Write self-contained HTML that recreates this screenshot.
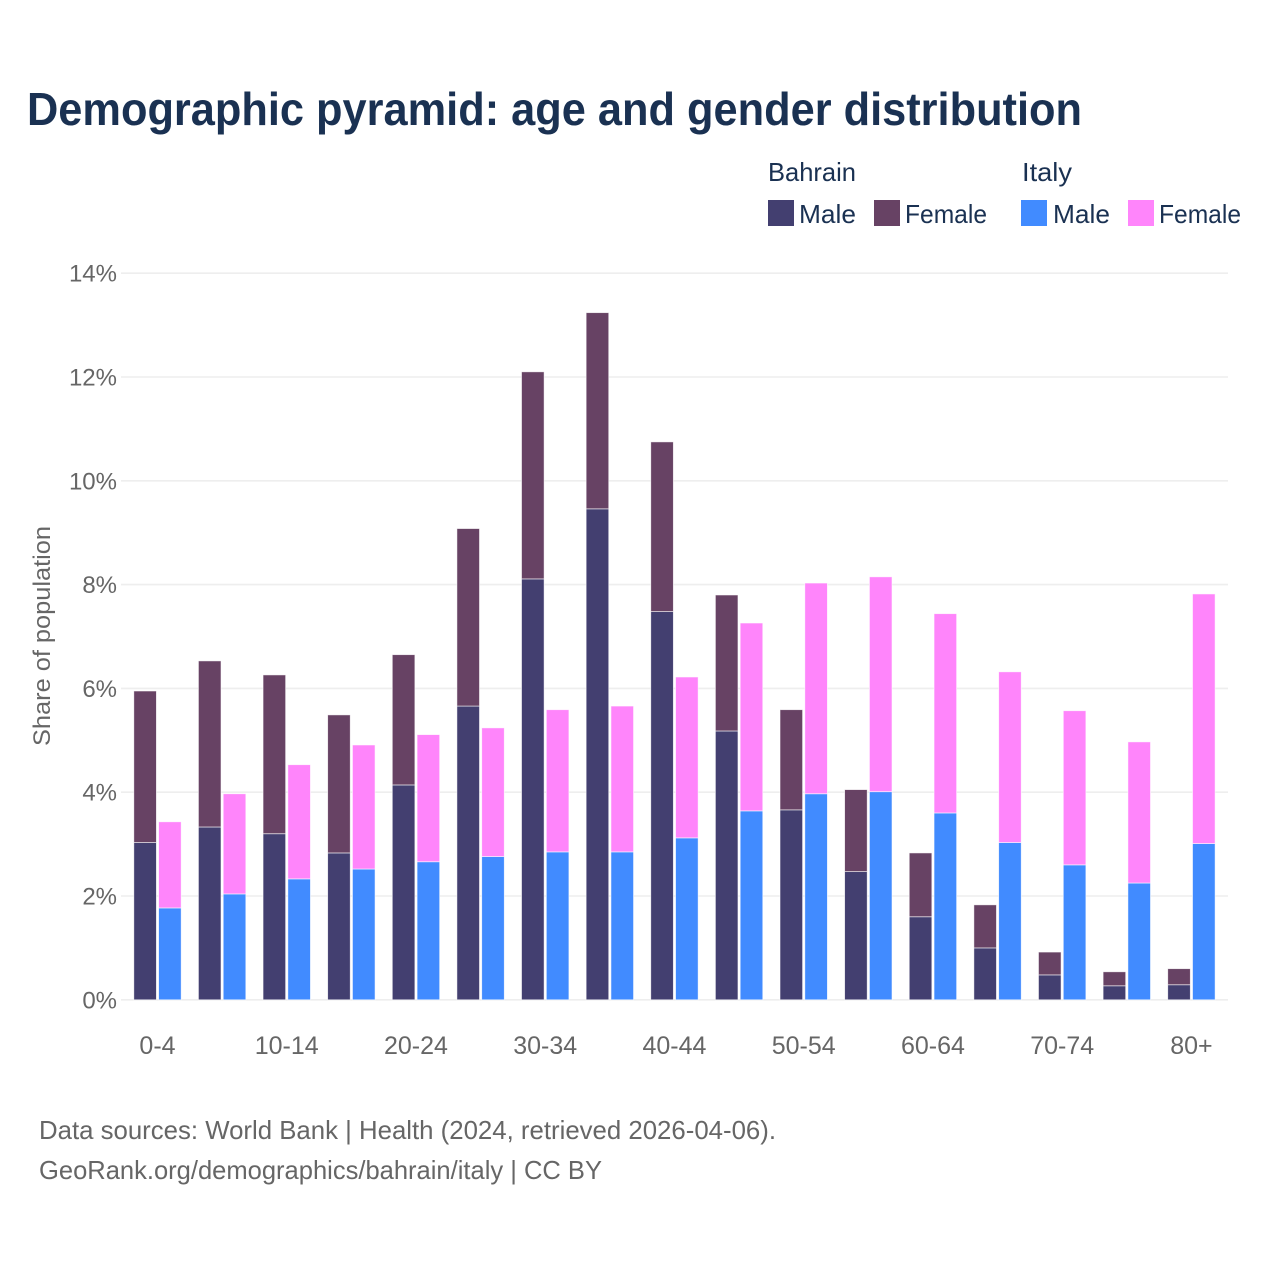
<!DOCTYPE html>
<html lang="en">
<head>
<meta charset="utf-8">
<title>Demographic pyramid: age and gender distribution</title>
<style>
  html, body { margin: 0; padding: 0; background: #fff; }
  svg { display: block; font-family: "Liberation Sans", sans-serif; }
</style>
</head>
<body>
<svg id="chart" width="1280" height="1280" viewBox="0 0 1280 1280" xmlns="http://www.w3.org/2000/svg">
  <rect x="0" y="0" width="1280" height="1280" fill="#ffffff"/>
  <text x="27" y="125" font-size="46" font-weight="700" fill="#1a3152" textLength="1055" lengthAdjust="spacingAndGlyphs">Demographic pyramid: age and gender distribution</text>

  <g font-size="26" fill="#1a3152">
    <text x="768" y="181" textLength="88" lengthAdjust="spacingAndGlyphs">Bahrain</text>
    <text x="1022" y="181" textLength="50" lengthAdjust="spacingAndGlyphs">Italy</text>
    <rect x="768" y="200" width="26" height="26" fill="#433f70"/>
    <text x="799" y="223" textLength="57" lengthAdjust="spacingAndGlyphs">Male</text>
    <rect x="874" y="200" width="26" height="26" fill="#674264"/>
    <text x="905" y="223" textLength="82" lengthAdjust="spacingAndGlyphs">Female</text>
    <rect x="1021" y="200" width="26" height="26" fill="#418bff"/>
    <text x="1053" y="223" textLength="57" lengthAdjust="spacingAndGlyphs">Male</text>
    <rect x="1128" y="200" width="26" height="26" fill="#ff85fb"/>
    <text x="1159" y="223" textLength="82" lengthAdjust="spacingAndGlyphs">Female</text>
  </g>

  <g id="grid"></g>
  <g id="yticks"></g>
  <g id="bars"></g>
  <g id="xticks"></g>

  <text transform="translate(50 636) rotate(-90)" text-anchor="middle" font-size="24" fill="#666666" textLength="220" lengthAdjust="spacingAndGlyphs">Share of population</text>

  <text x="39" y="1139" font-size="26" fill="#666666" textLength="737" lengthAdjust="spacingAndGlyphs">Data sources: World Bank | Health (2024, retrieved 2026-04-06).</text>
  <text x="39" y="1179" font-size="26" fill="#666666" textLength="563" lengthAdjust="spacingAndGlyphs">GeoRank.org/demographics/bahrain/italy | CC BY</text>
</svg>
<script>
const categories = ["0-4","5-9","10-14","15-19","20-24","25-29","30-34","35-39","40-44","45-49","50-54","55-59","60-64","65-69","70-74","75-79","80+"];
const bahrainMale = [3.03,3.33,3.20,2.83,4.14,5.66,8.11,9.46,7.48,5.18,3.66,2.47,1.60,1.00,0.48,0.27,0.29];
const bahrainFemale = [2.92,3.20,3.06,2.66,2.51,3.42,3.99,3.78,3.27,2.62,1.93,1.58,1.23,0.83,0.44,0.27,0.31];
const italyMale = [1.77,2.04,2.33,2.52,2.66,2.76,2.85,2.85,3.12,3.64,3.97,4.01,3.60,3.03,2.60,2.25,3.01];
const italyFemale = [1.66,1.93,2.20,2.39,2.45,2.48,2.74,2.81,3.10,3.62,4.06,4.14,3.84,3.29,2.97,2.72,4.81];
const yTicks = [0,2,4,6,8,10,12,14];

const NS = "http://www.w3.org/2000/svg";
const plotBottom = 999.8;
const plotUnit = 51.9;
const firstBandX = 133.8;
const bandStep = 64.62;
const barWidth = 22.6;
const barOffset = 24.8;

function yScale(v) { return plotBottom - v * plotUnit; }
function xBand(i) { return firstBandX + i * bandStep; }

const gridGroup = document.getElementById("grid");
const yTickGroup = document.getElementById("yticks");
yTicks.forEach(function (t) {
  const line = document.createElementNS(NS, "line");
  
  
  line.setAttribute("x1", 121);
  line.setAttribute("x2", 1228);
  line.setAttribute("y1", yScale(t));
  line.setAttribute("y2", yScale(t));
  line.setAttribute("stroke", "#eeeeee");
  line.setAttribute("stroke-width", 1.6);
  gridGroup.appendChild(line);

  const label = document.createElementNS(NS, "text");
  
  
  label.setAttribute("x", 117);
  label.setAttribute("y", yScale(t) + 8.5);
  label.setAttribute("text-anchor", "end");
  label.setAttribute("font-size", 24);
  label.setAttribute("fill", "#666666");
  label.textContent = t + "%";
  yTickGroup.appendChild(label);
});

const barsGroup = document.getElementById("bars");
function addBar(name, i, x, base, value, color) {
  const r = document.createElementNS(NS, "rect");
  
  
  r.setAttribute("x", x);
  r.setAttribute("y", yScale(base + value));
  r.setAttribute("width", barWidth);
  r.setAttribute("height", value * plotUnit);
  r.setAttribute("fill", color);
  r.setAttribute("stroke", "#ffffff");
  r.setAttribute("stroke-opacity", 0.7);
  r.setAttribute("stroke-width", 0.8);
  barsGroup.appendChild(r);
}

categories.forEach(function (c, i) {
  const x = xBand(i);
  addBar("bar-bahrain-male", i, x, 0, bahrainMale[i], "#433f70");
  addBar("bar-bahrain-female", i, x, bahrainMale[i], bahrainFemale[i], "#674264");
  addBar("bar-italy-male", i, x + barOffset, 0, italyMale[i], "#418bff");
  addBar("bar-italy-female", i, x + barOffset, italyMale[i], italyFemale[i], "#ff85fb");
});

const xTickGroup = document.getElementById("xticks");
categories.forEach(function (c, i) {
  if (i % 2 !== 0) return;
  const label = document.createElementNS(NS, "text");
  
  
  label.setAttribute("x", xBand(i) + (barOffset + barWidth) / 2);
  label.setAttribute("y", 1054);
  label.setAttribute("text-anchor", "middle");
  label.setAttribute("font-size", 25);
  label.setAttribute("fill", "#666666");
  label.textContent = c;
  xTickGroup.appendChild(label);
});
</script>
</body>
</html>
